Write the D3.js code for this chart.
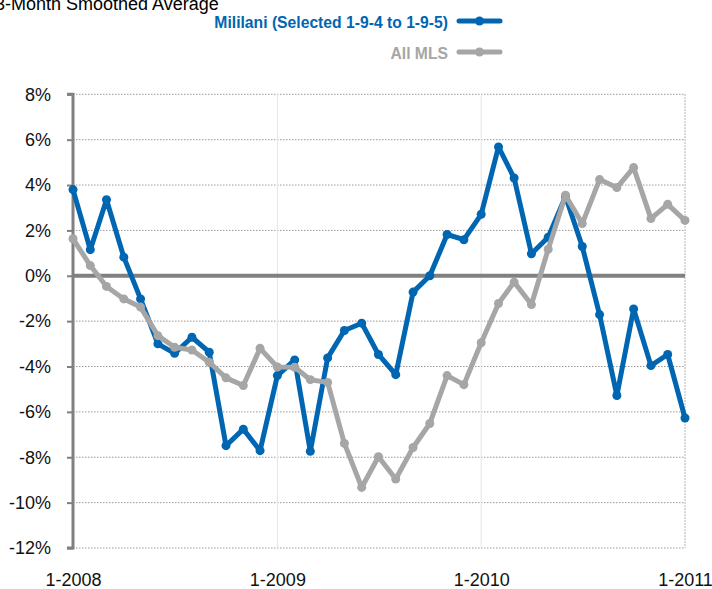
<!DOCTYPE html>
<html><head><meta charset="utf-8">
<script src="https://cdn.jsdelivr.net/npm/d3@7"></script>
<style>body{margin:0;background:#fff}svg{display:block;font-family:Arial,"Liberation Sans",sans-serif}</style>
</head><body>
<script>
const months = ["2008-01","2008-02","2008-03","2008-04","2008-05","2008-06","2008-07","2008-08","2008-09","2008-10","2008-11","2008-12",
"2009-01","2009-02","2009-03","2009-04","2009-05","2009-06","2009-07","2009-08","2009-09","2009-10","2009-11","2009-12",
"2010-01","2010-02","2010-03","2010-04","2010-05","2010-06","2010-07","2010-08","2010-09","2010-10","2010-11","2010-12","2011-01"];
const mililani = [3.8,1.15,3.35,0.82,-1.02,-3.0,-3.42,-2.71,-3.37,-7.49,-6.76,-7.71,-4.4,-3.71,-7.74,-3.62,-2.41,-2.09,-3.47,-4.36,-0.72,0.0,1.82,1.59,2.71,5.68,4.31,0.97,1.7,3.5,1.29,-1.71,-5.28,-1.46,-3.96,-3.47,-6.27];
const allMLS = [1.63,0.45,-0.47,-1.02,-1.38,-2.64,-3.15,-3.27,-3.81,-4.5,-4.84,-3.2,-4.02,-4.03,-4.58,-4.7,-7.39,-9.33,-7.98,-8.96,-7.57,-6.51,-4.4,-4.8,-2.95,-1.22,-0.28,-1.27,1.17,3.55,2.3,4.24,3.89,4.77,2.52,3.15,2.44];
const yTicks = [8,6,4,2,0,-2,-4,-6,-8,-10,-12];
const xTickMonths = ["2008-01","2009-01","2010-01","2011-01"];
const xTickLabels = ["1-2008","1-2009","1-2010","1-2011"];
const seriesNames = ["Mililani (Selected 1-9-4 to 1-9-5)","All MLS"];
const title = "3-Month Smoothed Average";

const W=712,H=589;
const parse=d3.timeParse("%Y-%m");
const dates=months.map(parse);
const svg=d3.select("body").append("svg").attr("width",W).attr("height",H);
const x=d3.scaleTime().domain([dates[0],dates[dates.length-1]]).range([73,685]);
const y=d3.scaleLinear().domain([-12,8]).range([548,94.3]);
const blue="#0066B2", gray="#A6A6A6", axisC="#808080";

// title (cut off at top, as in the reference)
svg.append("text").attr("x",-5).attr("y",10).attr("font-size",18).attr("fill","#000").text(title);

// horizontal dotted gridlines
svg.append("g").selectAll("line").data(yTicks.filter(d=>d!==0)).join("line")
 .attr("x1",73).attr("x2",685).attr("y1",d=>y(d)).attr("y2",d=>y(d))
 .attr("stroke","#9a9a9a").attr("stroke-width",1).attr("stroke-dasharray","1.5,1.5");
// vertical faint gridlines
svg.append("g").selectAll("line").data(xTickMonths.slice(1,3)).join("line")
 .attr("x1",d=>x(parse(d))).attr("x2",d=>x(parse(d))).attr("y1",y(8)).attr("y2",y(-12))
 .attr("stroke","#e4e4e4").attr("stroke-width",1);
// right edge dotted
svg.append("line").attr("x1",685).attr("x2",685).attr("y1",y(8)).attr("y2",y(-12))
 .attr("stroke","#9a9a9a").attr("stroke-width",1).attr("stroke-dasharray","1.5,1.5");

// y axis
const yAxis=d3.axisLeft(y).tickValues(yTicks).tickSize(6).tickPadding(16).tickFormat(d=>d+"%");
const gy=svg.append("g").attr("transform","translate(73,0)").call(yAxis);
gy.select(".domain").attr("stroke",axisC).attr("stroke-width",3).attr("d",`M-6,${y(8)}H0V${y(-12)}H-6`);
gy.selectAll(".tick line").attr("stroke",axisC).attr("stroke-width",2);
gy.selectAll(".tick text").attr("font-size",18).attr("fill","#111").attr("font-family","Arial,'Liberation Sans',sans-serif");

// zero line
svg.append("line").attr("x1",73).attr("x2",685).attr("y1",y(0)).attr("y2",y(0))
 .attr("stroke",axisC).attr("stroke-width",4);

// x axis labels
const xAxis=d3.axisBottom(x).tickValues(xTickMonths.map(parse)).tickSize(0).tickPadding(0)
 .tickFormat((d,i)=>xTickLabels[i]);
const gx=svg.append("g").attr("transform","translate(0,572)").call(xAxis);
gx.select(".domain").remove();
gx.selectAll(".tick text").attr("font-size",18).attr("fill","#111").attr("dy","0.75em").attr("font-family","Arial,'Liberation Sans',sans-serif");

// series
const line=d3.line().x((d,i)=>x(dates[i])).y(d=>y(d));
function drawSeries(vals,color){
  svg.append("path").datum(vals).attr("d",line).attr("fill","none").attr("stroke",color)
   .attr("stroke-width",5).attr("stroke-linejoin","round");
  svg.append("g").selectAll("circle").data(vals).join("circle")
   .attr("cx",(d,i)=>x(dates[i])).attr("cy",d=>y(d)).attr("r",4.5).attr("fill",color);
}
drawSeries(mililani,blue);
drawSeries(allMLS,gray);

// legend
const leg=[{name:seriesNames[0],c:blue,ty:28,ly:21},{name:seriesNames[1],c:gray,ty:59,ly:52}];
leg.forEach(l=>{
  svg.append("text").attr("x",448).attr("y",l.ty).attr("text-anchor","end").attr("font-size",15.7)
   .attr("font-weight","bold").attr("fill",l.c).text(l.name);
  svg.append("line").attr("x1",459).attr("x2",500).attr("y1",l.ly).attr("y2",l.ly)
   .attr("stroke",l.c).attr("stroke-width",5).attr("stroke-linecap","round");
  svg.append("circle").attr("cx",479.5).attr("cy",l.ly).attr("r",4.5).attr("fill",l.c);
});
</script>
</body></html>
